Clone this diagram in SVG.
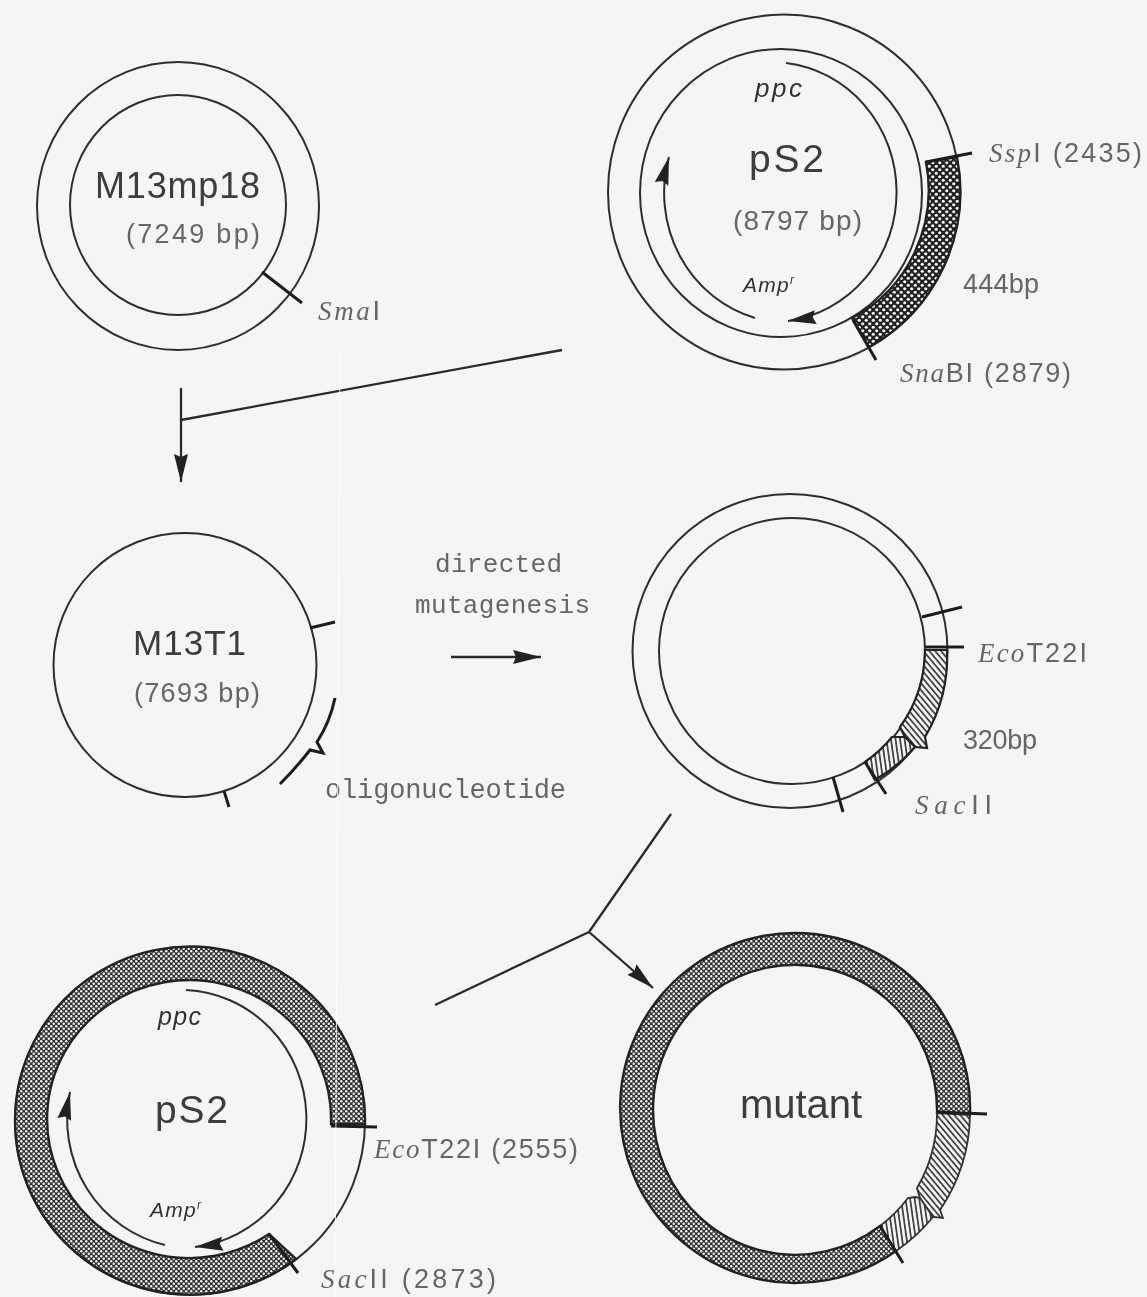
<svg xmlns="http://www.w3.org/2000/svg" width="1147" height="1297" viewBox="0 0 1147 1297">
<style>
.l{fill:none;stroke:#2e2e2e;stroke-width:2}
.t{stroke:#1e1e1e;stroke-width:3;fill:none}
.big{font-family:"Liberation Sans",Arial,sans-serif;fill:#3c3c3c}
.sm{font-family:"Liberation Sans",Arial,sans-serif;fill:#666}
.mono{font-family:"Liberation Mono","Courier New",monospace;fill:#666}
.i{font-family:"Liberation Serif","Times New Roman",serif;font-style:italic}
.gi{font-family:"Liberation Sans",Arial,sans-serif;font-style:italic;fill:#333}
.d{stroke:#2a2a2a;stroke-width:2.3}
</style>
<defs>
<filter id="soft" filterUnits="userSpaceOnUse" x="0" y="0" width="1147" height="1297"><feGaussianBlur stdDeviation="0.45"/></filter>
<pattern id="dots" width="7" height="7" patternUnits="userSpaceOnUse"><rect width="7" height="7" fill="#222"/><circle cx="1.75" cy="1.75" r="1.6" fill="#f5f5f5"/><circle cx="5.25" cy="5.25" r="1.6" fill="#f5f5f5"/></pattern>
<pattern id="fine" width="5" height="5" patternUnits="userSpaceOnUse"><rect width="5" height="5" fill="#333"/><circle cx="1.25" cy="1.25" r="1.2" fill="#f8f8f8"/><circle cx="3.75" cy="3.75" r="1.2" fill="#f8f8f8"/></pattern>
<pattern id="hatch" width="4.5" height="4.5" patternUnits="userSpaceOnUse" patternTransform="rotate(-40)"><rect width="4.5" height="4.5" fill="#f5f5f5"/><rect width="1.8" height="4.5" fill="#444"/></pattern>
<pattern id="hatch2" width="4.5" height="4.5" patternUnits="userSpaceOnUse" patternTransform="rotate(-8)"><rect width="4.5" height="4.5" fill="#f5f5f5"/><rect width="1.8" height="4.5" fill="#444"/></pattern>
<marker id="a" markerUnits="userSpaceOnUse" markerWidth="30" markerHeight="20" refX="28" refY="10" orient="auto"><path d="M0,3 L28,10 L0,17 L3,10Z" fill="#222"/></marker>
</defs>
<rect width="1147" height="1297" fill="#f5f5f5"/>
<g filter="url(#soft)">

<g id="m13mp18">
<ellipse class="l" cx="178" cy="206" rx="141" ry="144"/>
<ellipse class="l" cx="178" cy="205" rx="108" ry="110"/>
<line class="t" x1="262" y1="272" x2="302" y2="303"/>
<text class="big" x="95" y="198" font-size="36" textLength="165">M13mp18</text>
<text class="sm" x="126" y="243" font-size="27" textLength="134">(7249 bp)</text>
<text class="sm" x="318" y="320" font-size="27" textLength="62"><tspan class="i">Sma</tspan>I</text>
</g>

<g id="ps2-top">
<ellipse class="l" cx="784" cy="192" rx="176" ry="177.5"/>
<ellipse class="l" cx="781" cy="193" rx="141" ry="144"/>
<path d="M926,162 L957,157 A176,177.5 0 0 1 869,347 L852,318 A141,144 0 0 0 926,162Z" fill="url(#dots)" stroke="#222" stroke-width="2.4"/>
<line class="t" x1="926" y1="162" x2="972" y2="153"/>
<line class="t" x1="853" y1="320" x2="876" y2="360"/>
<path class="l" d="M786,63 A125,130 0 0 1 788,321" marker-end="url(#a)"/>
<path class="l" d="M755,318 A125,130 0 0 1 669,157" marker-end="url(#a)"/>
<text class="big" x="749" y="172" font-size="39" textLength="75">pS2</text>
<text class="sm" x="733" y="230" font-size="28" textLength="129">(8797 bp)</text>
<text class="gi" x="755" y="97" font-size="26" textLength="47">ppc</text>
<text class="gi" x="743" y="292" font-size="21" textLength="51">Amp<tspan dy="-8" font-size="12">r</tspan></text>
<text class="sm" x="989" y="162" font-size="27" textLength="153"><tspan class="i">Ssp</tspan>I (2435)</text>
<text class="sm" x="963" y="293" font-size="27" textLength="76">444bp</text>
<text class="sm" x="900" y="382" font-size="27" textLength="171"><tspan class="i">Sna</tspan>BI (2879)</text>
</g>

<g id="m13t1">
<ellipse class="l" cx="185" cy="665" rx="131.5" ry="132"/>
<line class="t" x1="310" y1="628" x2="335" y2="622"/>
<line class="t" x1="224" y1="791" x2="229" y2="807"/>
<path class="t" d="M335,698 Q330,722 317,742 L323,753 L310,750 Q296,768 280,784"/>
<text class="big" x="133" y="655" font-size="35" textLength="113">M13T1</text>
<text class="sm" x="134" y="702" font-size="27" textLength="126">(7693 bp)</text>
<text class="mono" x="325" y="798" font-size="27" textLength="241">oligonucleotide</text>
</g>

<g id="mutagenesis-label">
<text class="mono" x="435" y="572" font-size="26" textLength="127">directed</text>
<text class="mono" x="415" y="613" font-size="26" textLength="175">mutagenesis</text>
</g>

<g id="intermediate">
<ellipse class="l" cx="790" cy="651" rx="157.5" ry="157"/>
<ellipse class="l" cx="792" cy="651" rx="133" ry="133"/>
<path d="M925,650 L947,650 A157,157 0 0 1 925,737 L927,748 L915,747 L905,737 L900,727 A133,133 0 0 0 925,650Z" fill="url(#hatch)" stroke="#222" stroke-width="2.2"/>
<path d="M915,747 A157,157 0 0 1 875,780 L865,762 A133,133 0 0 0 892,737 L905,737Z" fill="url(#hatch2)" stroke="#222" stroke-width="2.2"/>
<line class="t" x1="922" y1="617" x2="962" y2="607"/>
<line class="t" x1="925" y1="647" x2="964" y2="647"/>
<line class="t" x1="865" y1="762" x2="886" y2="794"/>
<line class="t" x1="833" y1="777" x2="843" y2="812"/>
<text class="sm" x="978" y="662" font-size="27" textLength="109"><tspan class="i">Eco</tspan>T22I</text>
<text class="sm" x="963" y="749" font-size="27" textLength="74">320bp</text>
<text class="sm" x="915" y="814" font-size="27" textLength="77"><tspan class="i">Sac</tspan>II</text>
</g>

<g id="ps2-bottom">
<ellipse class="l" cx="190" cy="1121" rx="175" ry="174"/>
<path d="M331,1124 L365,1124 A175,174 0 1 0 296,1259 L269,1234 A142,139 0 1 1 331,1124Z" fill="url(#fine)" stroke="#222" stroke-width="2.4"/>
<line class="t" x1="331" y1="1126" x2="377" y2="1127"/>
<line class="t" x1="269" y1="1234" x2="298" y2="1273"/>
<path class="l" d="M186,990 A126,129 0 0 1 195,1247" marker-end="url(#a)"/>
<path class="l" d="M165,1245 A126,129 0 0 1 70,1092" marker-end="url(#a)"/>
<text class="big" x="155" y="1123" font-size="39" textLength="73">pS2</text>
<text class="gi" x="158" y="1025" font-size="25" textLength="43">ppc</text>
<text class="gi" x="150" y="1217" font-size="21" textLength="51">Amp<tspan dy="-8" font-size="12">r</tspan></text>
<text class="sm" x="374" y="1158" font-size="27" textLength="204"><tspan class="i">Eco</tspan>T22I (2555)</text>
<text class="sm" x="321" y="1288" font-size="27" textLength="175"><tspan class="i">Sac</tspan>II (2873)</text>
</g>

<g id="mutant">
<path d="M937,1113 L970,1115 A175,175 0 1 0 896,1251 L880,1226 A142,145 0 1 1 937,1113Z" fill="url(#fine)" stroke="#222" stroke-width="2.4"/>
<path d="M937,1113 L970,1115 A175,175 0 0 1 940,1210 L943,1218 L933,1217 L920,1198 L917,1188 A142,145 0 0 0 937,1113Z" fill="url(#hatch)" stroke="#333" stroke-width="1.8"/>
<path d="M933,1217 A175,175 0 0 1 896,1251 L880,1226 A142,145 0 0 0 908,1198 L915,1197 L920,1198Z" fill="url(#hatch2)" stroke="#333" stroke-width="1.8"/>
<line class="t" x1="937" y1="1112" x2="987" y2="1114"/>
<line class="t" x1="880" y1="1226" x2="903" y2="1263"/>
<text class="big" x="740" y="1118" font-size="40" textLength="122">mutant</text>
</g>

<g id="connectors">
<line class="d" x1="181" y1="388" x2="181" y2="482" marker-end="url(#a)"/>
<line class="d" x1="181" y1="420" x2="562" y2="350"/>
<line class="d" x1="451" y1="657" x2="541" y2="657" marker-end="url(#a)"/>
<line class="d" x1="435" y1="1005" x2="589" y2="932"/>
<line class="d" x1="589" y1="932" x2="671" y2="814"/>
<line class="d" x1="589" y1="932" x2="653" y2="988" marker-end="url(#a)"/>
</g>
</g>
<line id="scan-seam" x1="340" y1="350" x2="335" y2="1297" stroke="#fff" stroke-width="1" opacity=".85"/>
</svg>
